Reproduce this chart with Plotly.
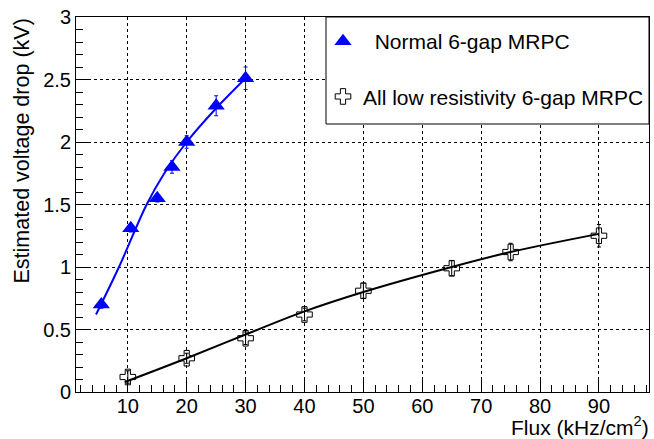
import plotly.graph_objects as go

# Data: Normal 6-gap MRPC
normal_flux = [5.5, 10.5, 15, 17.5, 20, 25, 30]
normal_drop = [0.70, 1.31, 1.55, 1.80, 2.00, 2.29, 2.51]
normal_err = [0.03, 0.03, 0.03, 0.05, 0.05, 0.08, 0.09]

# Data: All low resistivity 6-gap MRPC
lowres_flux = [10, 20, 30, 40, 50, 65, 75, 90]
lowres_drop = [0.12, 0.27, 0.43, 0.62, 0.81, 0.99, 1.12, 1.25]
lowres_err = [0.05, 0.04, 0.05, 0.05, 0.06, 0.06, 0.07, 0.09]

# Fit curves
normal_fit_x = [4.6, 8.5, 13.2, 16.2, 20, 25, 30]
normal_fit_y = [0.62, 1.00, 1.50, 1.75, 2.00, 2.27, 2.51]
lowres_fit_x = [9.5, 20, 30, 40, 50, 65, 75, 90]
lowres_fit_y = [0.08, 0.27, 0.46, 0.645, 0.80, 1.00, 1.12, 1.265]

x_ticks = [10, 20, 30, 40, 50, 60, 70, 80, 90]
y_ticks = [0, 0.5, 1, 1.5, 2, 2.5, 3]
y_tick_text = ["0", "0.5", "1", "1.5", "2", "2.5", "3"]

FONT = "Liberation Sans, Arial, Helvetica, sans-serif"
BLUE = "rgb(0,0,255)"

# plot-area geometry in pixels (for layout only)
W, H = 654, 439
ML, MR, MT, MB = 76, 5, 17, 47
PW, PH = W - ML - MR, H - MT - MB

fig = go.Figure()

fig.add_trace(go.Scatter(x=normal_fit_x, y=normal_fit_y, mode="lines",
                         line=dict(color=BLUE, width=2, shape="spline"),
                         showlegend=False, hoverinfo="skip"))
fig.add_trace(go.Scatter(x=lowres_fit_x, y=lowres_fit_y, mode="lines",
                         line=dict(color="black", width=2, shape="spline"),
                         showlegend=False, hoverinfo="skip"))

fig.add_trace(go.Scatter(x=normal_flux, y=normal_drop, mode="markers",
                         name="\u00a0\u00a0Normal 6-gap MRPC", legendgroup="a",
                         marker=dict(symbol="triangle-up", size=15, color=BLUE,
                                     line=dict(width=0)),
                         error_y=dict(type="data", array=normal_err, color=BLUE,
                                      thickness=1, width=2)))
fig.add_trace(go.Scatter(x=lowres_flux, y=lowres_drop, mode="markers",
                         name="All low resistivity 6-gap MRPC", legendgroup="b",
                         marker=dict(symbol="cross-open", size=13, color="black",
                                     line=dict(width=1, color="black")),
                         error_y=dict(type="data", array=lowres_err, color="black",
                                      thickness=1, width=2)))

axis_common = dict(
    showline=True, linecolor="black", linewidth=1, mirror=True,
    ticks="inside", tickcolor="black", tickwidth=1,
    showgrid=True, gridcolor="black", gridwidth=1, griddash="dot",
    zeroline=False,
    tickfont=dict(family=FONT, size=20, color="black"),
)

fig.update_xaxes(range=[1.2, 98.5], tickvals=x_ticks, ticklen=13,
                 ticklabelstandoff=-4,
                 minor=dict(dtick=2, tick0=0, ticks="inside", ticklen=7,
                            tickcolor="black", showgrid=False),
                 **axis_common)
fig.update_yaxes(range=[0, 3], tickvals=y_ticks, ticktext=y_tick_text, ticklen=13,
                 minor=dict(dtick=0.1, tick0=0, ticks="inside", ticklen=7,
                            tickcolor="black", showgrid=False),
                 **axis_common)

fig.add_annotation(text="Estimated voltage drop (kV)", xref="paper", yref="paper",
                   x=0, y=1, xanchor="center", yanchor="top", xshift=-55,
                   textangle=-90, showarrow=False,
                   font=dict(family=FONT, size=21.5, color="black"))
fig.add_annotation(text="Flux (kHz/cm<sup>2</sup>)", xref="paper", yref="paper",
                   x=1, y=0, xanchor="right", yanchor="top", yshift=-19, xshift=2,
                   showarrow=False,
                   font=dict(family=FONT, size=21, color="black"))

# legend frame (white box with black border)
fig.add_shape(type="rect", xref="paper", yref="paper",
              x0=(326 - ML) / PW, x1=1.0, y0=1 - (124 - MT) / PH, y1=1.0,
              line=dict(color="black", width=1), fillcolor="white", layer="above")

fig.update_layout(
    width=W, height=H,
    margin=dict(l=ML, r=MR, t=MT, b=MB),
    paper_bgcolor="white", plot_bgcolor="white",
    font=dict(family=FONT, color="black"),
    showlegend=True,
    legend=dict(x=1, y=1 - 4 / PH, xanchor="right", yanchor="top",
                bgcolor="rgba(0,0,0,0)", borderwidth=0,
                font=dict(family=FONT, size=21, color="black"),
                traceorder="grouped", tracegroupgap=25, itemwidth=30),
)

fig.write_html("out.html")
